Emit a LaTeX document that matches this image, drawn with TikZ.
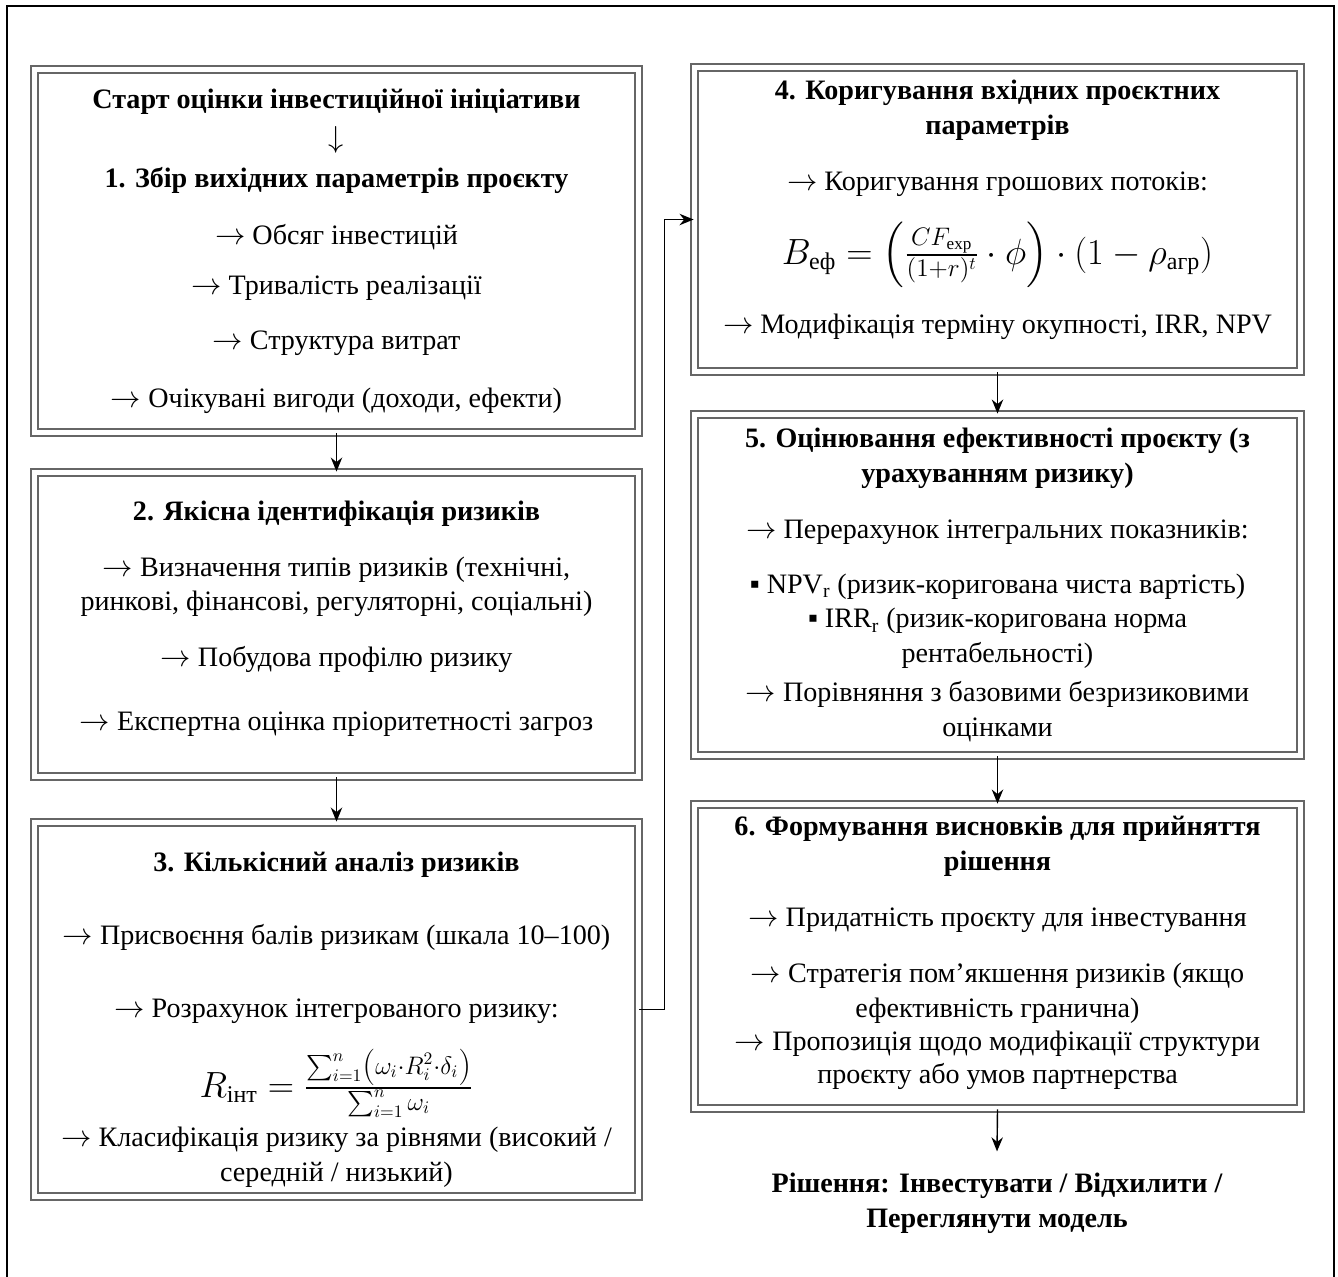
\documentclass[tikz,border=0pt]{standalone}
\usepackage{amsmath}
\usepackage{fontspec}
\setmainfont{Liberation Serif}
\usetikzlibrary{
  positioning,
  calc,
  arrows.meta
}
\newcommand{\ra}{$\rightarrow$}
\newcommand{\bigmath}{\fontsize{19.5}{22}\selectfont}

\begin{document}
\begin{tikzpicture}[
      x=0.02cm, y=-0.02cm,
      stage/.style={draw=black!60, double, double distance=2.8pt, line width=1.1pt, minimum width=12.08cm, inner sep=0pt, align=center, font=\fontsize{16}{19.8}\selectfont},
      result/.style={align=center, inner ysep=12pt, font=\fontsize{16}{19.8}\selectfont\bfseries},
      arrow/.style={-{Stealth[length=8pt, width=6.5pt]}, line width=0.8pt}
    ]
      \useasboundingbox (0,0) rectangle (1338,1276);
      \draw[line width=1.2pt] (7,6) rectangle (1334,1320);

      % Left column
      \node[stage, minimum height=7.26cm] (b1) at (336.5,251) {
        \textbf{Старт оцінки інвестиційної ініціативи}\\[2.8pt]
        $\downarrow$\\[2.8pt]
        \textbf{1. Збір вихідних параметрів проєкту}\\[12.5pt]
        \ra{} Обсяг інвестицій\\[8.5pt]
        \ra{} Тривалість реалізації\\[11.9pt]
        \ra{} Структура витрат\\[13pt]
        \ra{} Очікувані вигоди (доходи, ефекти)
      };
      \node[stage, minimum height=6.08cm] (b2) at (336.5,624.5) {
        \textbf{2. Якісна ідентифікація ризиків}\\[12pt]
        \ra{} Визначення типів ризиків (технічні,\\
        ринкові, фінансові, регуляторні, соціальні)\\[12pt]
        \ra{} Побудова профілю ризику\\[16.4pt]
        \ra{} Експертна оцінка пріоритетності загроз\\[-9.7pt]\mbox{}
      };
      \node[stage, minimum height=7.48cm] (b3) at (336.5,1009.5) {
        \mbox{}\\[3.3pt]
        \textbf{3. Кількісний аналіз ризиків}\\[21.5pt]
        \ra{} Присвоєння балів ризикам (шкала 10–100)\\[22pt]
        \ra{} Розрахунок інтегрованого ризику:\\[13.5pt]
        {\bigmath $R_{\text{інт}} = \frac{\sum_{i=1}^{n}\left(\omega_i\cdot R_i^2\cdot\delta_i\right)}{\sum_{i=1}^{n}\omega_i}$}\\[4.8pt]
        \ra{} Класифікація ризику за рівнями (високий /\\
        середній / низький)
      };

      % Right column
      \node[stage, minimum width=12.12cm, minimum height=6.08cm] (b4) at (997.5,219.5) {
        \textbf{4. Коригування вхідних проєктних}\\
        \textbf{параметрів}\\[12pt]
        \ra{} Коригування грошових потоків:\\[13.7pt]
        {\bigmath $B_{\text{еф}} = \left(\frac{CF_{\text{exp}}}{(1+r)^t}\cdot\phi\right)\cdot(1-\rho_{\text{агр}})$}\\[14pt]
        \ra{} Модифікація терміну окупності, IRR, NPV\\[-5.7pt]\mbox{}
      };
      \node[stage, minimum width=12.12cm, minimum height=6.82cm] (b5) at (997.5,585) {
        \textbf{5. Оцінювання ефективності проєкту (з}\\
        \textbf{урахуванням ризику)}\\[12pt]
        \ra{} Перерахунок інтегральних показників:\\[11.3pt]
        ▪ NPV\textsubscript{r} (ризик-коригована чиста вартість)\\
        ▪ IRR\textsubscript{r} (ризик-коригована норма\\
        рентабельності)\\[2.3pt]
        \ra{} Порівняння з базовими безризиковими\\
        оцінками
      };
      \node[stage, minimum width=12.12cm, minimum height=6.08cm] (b6) at (997.5,956.5) {
        \textbf{6. Формування висновків для прийняття}\\
        \textbf{рішення}\\[12pt]
        \ra{} Придатність проєкту для інвестування\\[12pt]
        \ra{} Стратегія пом'якшення ризиків (якщо\\
        ефективність гранична)\\[-1pt]
        \ra{} Пропозиція щодо модифікації структури\\[-1pt]
        проєкту або умов партнерства\\[-12pt]\mbox{}
      };
      \node[result] (dec) at (997,1203) {Рішення: Інвестувати / Відхилити /\\ Переглянути модель};

      % Arrows
      \draw[arrow] (b1.south) -- (b2.north);
      \draw[arrow] (b2.south) -- (b3.north);
      \draw[arrow] (b3.east) -- ++(25,0) |- (b4.west);
      \draw[arrow] (b4.south) -- (b5.north);
      \draw[arrow] (b5.south) -- (b6.north);
      \draw[arrow] (b6.south) -- (dec.north);
    \end{tikzpicture}
\end{document}
